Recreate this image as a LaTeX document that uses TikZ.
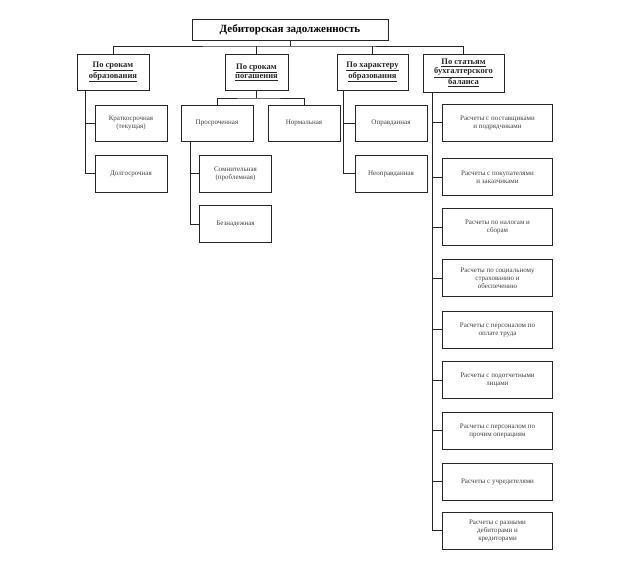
\documentclass[tikz,border=0pt]{standalone}
\usepackage{fontspec}
\setmainfont{Liberation Serif}
\begin{document}
\begin{tikzpicture}[x=1pt,y=-1pt,
  bx/.style={draw=black!85,line width=1pt,inner sep=1pt,align=center,font=\fontsize{7}{8}\selectfont,text=black!75},
  cat/.style={bx,font=\bfseries\fontsize{8.5}{9}\selectfont,text=black!85},
  ln/.style={draw=black!85,line width=0.9pt}]
\useasboundingbox (0,0) rectangle (624,560);
\node[bx,font=\bfseries\fontsize{11}{12}\selectfont,text=black,minimum width=196pt,minimum height=21pt] (root) at (290,29.5) {Дебиторская задолженность};
\node[cat,minimum width=72pt,minimum height=36pt] (c1) at (113,72) {\underline{По срокам}\\\underline{образования}};
\node[cat,minimum width=63pt,minimum height=36pt] (c2) at (256.5,72) {\underline{По срокам}\\\underline{погашения}};
\node[cat,minimum width=71pt,minimum height=36pt] (c3) at (372.5,72) {\underline{По характеру}\\\underline{образования}};
\node[cat,minimum width=81pt,minimum height=38pt] (c4) at (463.5,73) {\underline{По статьям}\\\underline{бухгалтерского}\\\underline{баланса}};
\coordinate (bus) at (290,46);
\draw[ln] (root.south) -- (bus);
\draw[ln] (c1.north) |- (bus) -| (c4.north);
\draw[ln] (c2.north) -- (c2.north |- bus);
\draw[ln] (c3.north) -- (c3.north |- bus);
% column 1
\node[bx,minimum width=72pt,minimum height=36pt] (k1) at (131,123) {Краткосрочная\\(текущая)};
\node[bx,minimum width=72pt,minimum height=37pt] (k2) at (131,173.5) {Долгосрочная};
\coordinate (s1) at (85,90);
\draw[ln] (s1) |- (k2.west);
\draw[ln] (k1.west) -- (k1.west -| s1);
% column 2
\node[bx,minimum width=72pt,minimum height=36pt] (p1) at (217,123) {Просроченная};
\node[bx,minimum width=72pt,minimum height=36pt] (p2) at (304,123) {Нормальная};
\coordinate (b2) at (256.5,98);
\draw[ln] (c2.south) -- (b2);
\draw[ln] (p1.north) |- (b2) -| (p2.north);
\node[bx,minimum width=72pt,minimum height=37pt] (p3) at (235.5,173.5) {Сомнительная\\(проблемная)};
\node[bx,minimum width=72pt,minimum height=37pt] (p4) at (235.5,224) {Безнадежная};
\coordinate (s2) at (190,141);
\draw[ln] (s2) |- (p4.west);
\draw[ln] (p3.west) -- (p3.west -| s2);
% column 3
\node[bx,minimum width=72pt,minimum height=36pt] (o1) at (391,123) {Оправданная};
\node[bx,minimum width=72pt,minimum height=37pt] (o2) at (391,173.5) {Неоправданная};
\coordinate (s3) at (343,90);
\draw[ln] (s3) |- (o2.west);
\draw[ln] (o1.west) -- (o1.west -| s3);
% column 4
\coordinate (s4) at (432,92);
\foreach \i/\y/\t in {1/122.5/{Расчеты с поставщиками\\и подрядчиками},
  2/177/{Расчеты с покупателями\\и заказчиками},
  3/227/{Расчеты по налогам и\\сборам},
  4/278/{Расчеты по социальному\\страхованию и\\обеспечению},
  5/329.5/{Расчеты с персоналом по\\оплате труда},
  6/380/{Расчеты с подотчетными\\лицами},
  7/430.5/{Расчеты с персоналом по\\прочим операциям},
  8/481.5/{Расчеты с учредителями},
  9/530.5/{Расчеты с разными\\дебиторами и\\кредиторами}}{
  \node[bx,minimum width=110pt,minimum height=37pt] (r\i) at (497.5,\y) {\t};
  \draw[ln] (r\i.west) -- (r\i.west -| s4);
}
\draw[ln] (s4) -- (s4 |- r9.west);
\end{tikzpicture}
\end{document}
